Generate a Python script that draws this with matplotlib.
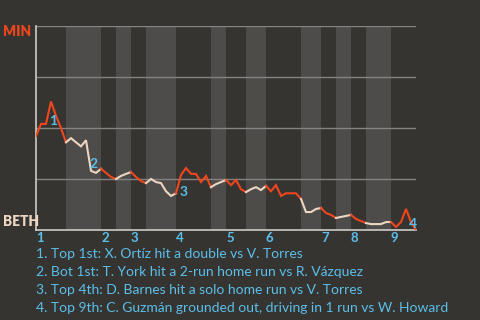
import matplotlib
matplotlib.use("Agg")
import matplotlib.pyplot as plt
import numpy as np

# MIN win probability (%) after each plate appearance
win_prob = [46, 52, 52, 63, 56, 50, 43,
            45, 43, 41, 44, 29, 28, 30,
            28, 26, 25,
            26.5, 27.5, 28.4,
            26, 24, 23,
            25, 23.5, 23, 19, 16.7, 18,
            27, 30.4, 27.5, 27.5, 23.5, 26.5, 21,
            22.5, 23.5, 24.5,
            22, 24.5, 20, 18.6,
            20, 21, 19.6, 21.6,
            19, 22, 16.7, 18, 18, 18, 15.2,
            8.8, 8.8, 10.3, 10.8,
            8.3, 7.4, 5.9,
            6.4, 6.9, 7.4,
            5.4, 4.4, 3.4,
            2.9, 2.9, 2.9, 3.9, 3.9,
            1.5, 3.9, 10.3, 3.9, 0]
# plate appearances per half inning (top 1st, bottom 1st, ...)
half_lengths = [6, 7, 3, 3, 3, 6, 7, 3, 4, 4, 7, 4, 3, 3, 3, 5, 5]
innings = ["1", "2", "3", "4", "5", "6", "7", "8", "9"]
event_index = [2, 10, 28, 74]
event_labels = ["1", "2", "3", "4"]
event_texts = [
    "1. Top 1st: X. Ortíz hit a double vs V. Torres",
    "2. Bot 1st: T. York hit a 2-run home run vs R. Vázquez",
    "3. Top 4th: D. Barnes hit a solo home run vs V. Torres",
    "4. Top 9th: C. Guzmán grounded out, driving in 1 run vs W. Howard",
]
away_team = "MIN"
home_team = "BETH"

BG = "#363431"
BAND = "#4e4c4a"
RED = "#f0461e"
CREAM = "#ecd6c2"
BLUE = "#5bbfea"
GRID = "#858381"
SPINE = "#cfcbc7"

plt.rcParams["font.family"] = ["Lato", "DejaVu Sans"]

fig = plt.figure(figsize=(4.8, 3.2), dpi=100, facecolor=BG)
ax = fig.add_axes([36 / 480, 90 / 320, 380 / 480, 204 / 320])
ax.set_facecolor(BG)

y = np.array(win_prob) / 100.0
x = np.arange(len(y))
bounds = np.concatenate([[0], np.cumsum(half_lengths)])

for h in range(len(half_lengths)):
    s, e = bounds[h], bounds[h + 1]
    if h % 2 == 1:
        ax.axvspan(s, e, color=BAND, lw=0, zorder=0)
    ax.plot(x[s:e + 1], y[s:e + 1], color=RED if h % 2 == 0 else CREAM,
            lw=1.5, zorder=3, solid_joinstyle="miter")

for v in [0.25, 0.5, 0.75, 1.0]:
    ax.axhline(v, color=GRID, lw=1.0, zorder=1)

ax.set_xlim(0, bounds[-1])
ax.set_ylim(0, 1)
for s in ["top", "right"]:
    ax.spines[s].set_visible(False)
for s in ["left", "bottom"]:
    ax.spines[s].set_color(SPINE)
    ax.spines[s].set_linewidth(1.2)
ax.set_yticks([])
ax.set_xticks(bounds[:-1:2])
ax.set_xticklabels(innings, color=BLUE, fontsize=9.5, fontweight="bold", ha="left")
ax.tick_params(axis="x", length=0, pad=1.5)

for i, lab in zip(event_index, event_labels):
    mx = (x[i] + x[i + 1]) / 2
    my = (y[i] + y[i + 1]) / 2
    ax.annotate(lab, (mx, my), xytext=(3.4, -5.8), textcoords="offset points",
                ha="center", va="center", color=BLUE, fontsize=10,
                fontweight="bold", zorder=4)

fig.text(3 / 480, 1 - 32 / 320, away_team, color=RED, fontsize=9.8,
         fontweight="heavy", ha="left", va="center")
fig.text(3 / 480, 1 - 221 / 320, home_team, color=CREAM, fontsize=9.8,
         fontweight="heavy", ha="left", va="center")

for k, t in enumerate(event_texts):
    fig.text(36 / 480, 1 - (254.5 + 18 * k) / 320, t, color=BLUE,
             fontsize=10.0, ha="left", va="center")

fig.savefig("out.png", dpi=100, facecolor=BG)
